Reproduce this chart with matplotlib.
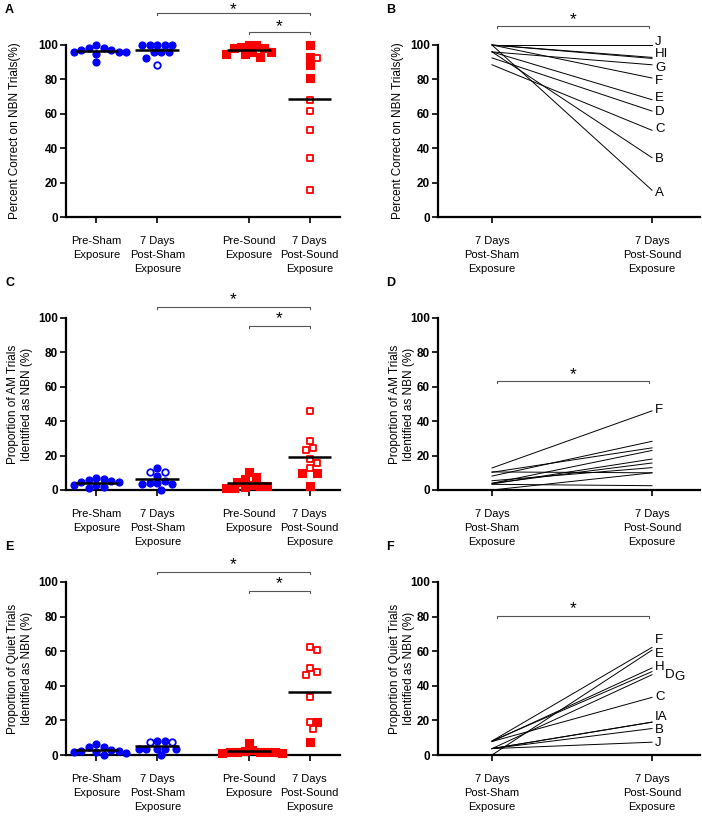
import numpy as np
import matplotlib
matplotlib.use("Agg")
import matplotlib.pyplot as plt

plt.rcParams['font.family'] = ['Liberation Sans', 'DejaVu Sans']

subjects = list("ABCDEFGHIJ")
group_labels = ["Pre-Sham\nExposure", "7 Days\nPost-Sham\nExposure",
                "Pre-Sound\nExposure", "7 Days\nPost-Sound\nExposure"]
pair_labels = ["7 Days\nPost-Sham\nExposure", "7 Days\nPost-Sound\nExposure"]

# ---- Experiment 1: percent correct on NBN trials ----
nbn_pre_sham = [98, 96, 97, 96, 98, 95, 100, 90, 97, 96]
nbn_pre_sound = [95, 98, 100, 93, 98, 100, 95, 99, 96, 96]
nbn_post_sham = [100, 96, 88.5, 92.5, 96, 100, 96, 100, 100, 100]      # subjects A..J
nbn_post_sound = [15.6, 34.5, 50.4, 61.6, 68.2, 80.8, 88.5, 92.8, 92.2, 100]
nbn_post_sham_open = [0, 0, 1, 0, 0, 0, 0, 0, 0, 0]
nbn_post_sound_open = [1, 1, 1, 1, 1, 0, 0, 0, 1, 0]

# ---- Experiment 2: AM trials identified as NBN ----
am_pre_sham = [5.8, 2.9, 7.2, 1.0, 5.5, 3.0, 4.9, 6.5, 2.0, 4.5]
am_pre_sound = [10.3, 7.4, 6.2, 4.8, 2.3, 2.3, 1.0, 1.0, 3.0, 2.0]
am_post_sham = [3.9, 5.4, 3.5, 10.3, 0.0, 12.8, 8.1, 3.9, 3.3, 10.5]
am_post_sound = [23.0, 13.0, 18.0, 24.5, 10.0, 46.0, 28.3, 15.7, 2.5, 10.0]
am_post_sham_open = [0, 0, 0, 1, 0, 0, 0, 0, 0, 1]
am_post_sound_open = [1, 1, 1, 1, 0, 1, 1, 1, 0, 0]

# ---- Experiment 3: quiet trials identified as NBN ----
q_pre_sham = [6.5, 4.5, 4.5, 2.5, 3.0, 1.0, 2.0, 2.5, 1.5, 0.0]
q_pre_sound = [7.0, 3.0, 2.5, 2.0, 2.0, 1.5, 2.0, 1.5, 1.0, 1.0]
q_post_sham = [3.7, 3.7, 7.8, 8.1, 0.0, 8.1, 3.7, 7.8, 3.7, 3.7]
q_post_sound = [19.0, 15.3, 33.3, 48.2, 60.6, 62.2, 46.4, 50.3, 19.0, 7.4]
q_post_sham_open = [0, 0, 1, 0, 0, 0, 0, 1, 0, 0]
q_post_sound_open = [1, 1, 1, 1, 1, 1, 1, 1, 0, 0]

ylabels = ["Percent Correct on NBN Trials(%)",
           "Proportion of AM Trials\nIdentified as NBN (%)",
           "Proportion of Quiet Trials\nIdentified as NBN (%)"]

BLUE = '#0000ff'
RED = '#ff0000'
W, H = 702, 816
fig = plt.figure(figsize=(W / 100, H / 100), dpi=100)


def fax(l, r, t, b):
    return fig.add_axes([l / W, 1 - b / H, (r - l) / W, (b - t) / H])


def style(ax):
    for s in ['top', 'right']:
        ax.spines[s].set_visible(False)
    for s in ['left', 'bottom']:
        ax.spines[s].set_linewidth(1.6)
    ax.tick_params(axis='both', length=4, width=1.2, direction='out')
    ax.tick_params(axis='x', pad=10, labelsize=8)
    ax.tick_params(axis='y', pad=2, labelsize=8.5)
    ax.set_ylim(0, 100)
    ax.set_yticks([0, 20, 40, 60, 80, 100])
    for lab in ax.get_yticklabels():
        lab.set_fontweight('bold')


def swarm(ax, values, d_px):
    values = np.asarray(values, float)
    ypx = np.array([ax.transData.transform((0, v))[1] for v in values])
    ux = ax.transData.transform((1, 0))[0] - ax.transData.transform((0, 0))[0]
    order = np.argsort(-values)
    placed = []
    offs = np.zeros(len(values))
    for i in order:
        k = 0
        while True:
            cands = [0] if k == 0 else [k * 0.5, -k * 0.5]
            ok = None
            for c in cands:
                xo = c * d_px
                if all((xo - px) ** 2 + (ypx[i] - py) ** 2 >= (d_px * 0.95) ** 2 for px, py in placed):
                    ok = xo
                    break
            if ok is not None:
                offs[i] = ok / ux
                placed.append((ok, ypx[i]))
                break
            k += 1
    return offs


def bracket(ax, x1, x2, y, ys):
    ax.plot([x1, x1, x2, x2], [y - 1.2, y, y, y - 1.2], color='#555555', lw=0.8, clip_on=False)
    ax.text((x1 + x2) / 2, ys, '*', ha='center', va='center', fontsize=12.5, clip_on=False)


def scatter_panel(ax, pre_sham, post_sham, sham_open, pre_sound, post_sound, sound_open):
    pos = [1, 2, 3.5, 4.5]
    ax.set_xlim(0.5, 5.0)
    style(ax)
    ax.set_xticks(pos)
    ax.set_xticklabels(group_labels)
    for lab in ax.get_xticklabels():
        lab.set_linespacing(1.45)
    sets = [(pre_sham, [0] * len(pre_sham), BLUE, 'o'),
            (post_sham, sham_open, BLUE, 'o'),
            (pre_sound, [0] * len(pre_sound), RED, 's'),
            (post_sound, sound_open, RED, 's')]
    for p, (vals, opn, col, mk) in zip(pos, sets):
        offs = swarm(ax, vals, 7.5)
        vals = np.asarray(vals, float)
        opn = np.asarray(opn, bool)
        xs = p + offs
        ax.scatter(xs[~opn], vals[~opn], s=26, marker=mk, color=col, edgecolors=col,
                   linewidths=0.8, zorder=3, clip_on=False)
        ax.scatter(xs[opn], vals[opn], s=22, marker=mk, facecolors='white', edgecolors=col,
                   linewidths=1.3, zorder=3, clip_on=False)
        ax.hlines(vals.mean(), p - 0.36, p + 0.36, color='black', lw=1.8, zorder=4)


def pair_panel(ax, a, b, labels):
    ax.set_xlim(0.6625, 2.3)
    style(ax)
    ax.set_xticks([1, 2])
    ax.set_xticklabels(pair_labels)
    for lab in ax.get_xticklabels():
        lab.set_linespacing(1.45)
    for va, vb in zip(a, b):
        ax.plot([1, 2], [va, vb], color='black', lw=0.7, clip_on=False)
    for txt, x, y in labels:
        ax.text(x, y, txt, ha='left', va='center', fontsize=9.5, clip_on=False)


# geometry in pixels
L_left, L_right = 66, 340
R_left, R_right = 438, 700
rows = [(45, 217), (318, 490), (582, 755)]

data = [
    (nbn_pre_sham, nbn_post_sham, nbn_post_sham_open, nbn_pre_sound, nbn_post_sound, nbn_post_sound_open),
    (am_pre_sham, am_post_sham, am_post_sham_open, am_pre_sound, am_post_sound, am_post_sound_open),
    (q_pre_sham, q_post_sham, q_post_sham_open, q_pre_sound, q_post_sound, q_post_sound_open),
]

pair_text = [
    [("J", 2.02, 101.5), ("HI", 2.02, 94.5), ("G", 2.02, 86.5), ("F", 2.02, 79), ("E", 2.02, 69),
     ("D", 2.02, 61), ("C", 2.02, 51), ("B", 2.02, 34), ("A", 2.02, 14)],
    [("F", 2.02, 46.5)],
    [("F", 2.02, 66.5), ("E", 2.02, 58.5), ("H", 2.02, 51), ("D", 2.08, 46.5), ("G", 2.14, 45),
     ("C", 2.02, 33.5), ("IA", 2.02, 22), ("B", 2.02, 14.5), ("J", 2.02, 7)],
]

brackets_left = [((2, 4.5, 118.4, 120.3), (3.5, 4.5, 107.4, 110.5)),
                 ((2, 4.5, 106.6, 110.5), (3.5, 4.5, 95.3, 99.5)),
                 ((2, 4.5, 106, 110), (3.5, 4.5, 95, 99))]
brackets_right = [(1.03, 1.98, 111, 115), (1.03, 1.98, 63.4, 67), (1.03, 1.98, 80.4, 84.5)]

panel_letters = [("A", "B"), ("C", "D"), ("E", "F")]

for r, (t, b) in enumerate(rows):
    axl = fax(L_left, L_right, t, b)
    scatter_panel(axl, *data[r])
    for br in brackets_left[r]:
        bracket(axl, *br)
    axr = fax(R_left, R_right, t, b)
    d = data[r]
    pair_panel(axr, d[1], d[4], pair_text[r])
    bracket(axr, *brackets_right[r])

    yc = 1 - (t + b) / 2 / H
    fig.text(15 / W if r == 0 else 20 / W, yc, ylabels[r], rotation=90, ha='center', va='center',
             fontsize=8.5, linespacing=1.3)
    fig.text(398 / W if r == 0 else 402 / W, yc, ylabels[r], rotation=90, ha='center', va='center',
             fontsize=8.5, linespacing=1.3)
    fig.text(5 / W, 1 - (t - 35) / H, panel_letters[r][0], fontweight='bold', fontsize=9, va='center')
    fig.text(386 / W, 1 - (t - 35) / H, panel_letters[r][1], fontweight='bold', fontsize=9, va='center')

fig.savefig("out.png", dpi=100)
